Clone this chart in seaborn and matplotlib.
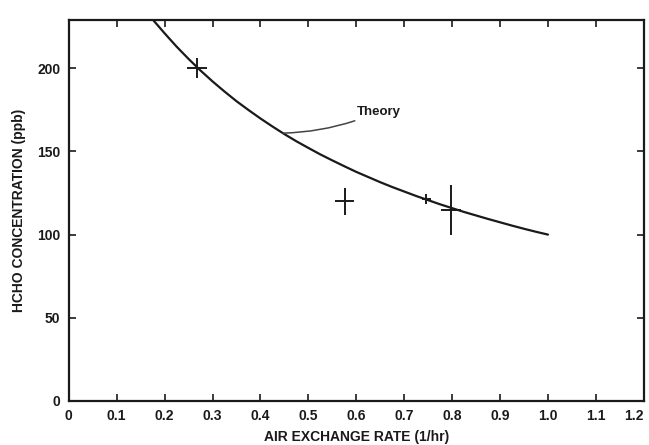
import pandas as pd
import matplotlib
matplotlib.use('Agg')
import matplotlib.pyplot as plt
import seaborn as sns

# Theory curve
theory_x = [0.17, 0.20, 0.225, 0.25, 0.275, 0.30, 0.325, 0.35, 0.375,
            0.40, 0.425, 0.45, 0.475, 0.50, 0.525, 0.55, 0.575, 0.60,
            0.625, 0.65, 0.675, 0.70, 0.725, 0.75, 0.775, 0.80, 0.825,
            0.85, 0.875, 0.90, 0.925, 0.95, 0.975, 1.00]
theory_y = [231, 221, 213, 205.6, 198.6, 192.1, 186.0, 180.2, 174.9,
            169.8, 165.0, 160.4, 156.1, 152.1, 148.2, 144.6, 141.1, 137.7,
            134.6, 131.5, 128.6, 125.9, 123.2, 120.7, 118.2, 115.9, 113.6,
            111.5, 109.4, 107.4, 105.4, 103.5, 101.7, 100]

# Measured points with error bars
meas_x = [0.267, 0.576, 0.746, 0.797]
meas_y = [200, 120, 121.6, 114.7]
meas_xerr = [0.021, 0.020, 0.009, 0.021]
meas_yerr = [6, 8, 3, 15]

x_ticks = [0, 0.1, 0.2, 0.3, 0.4, 0.5, 0.6, 0.7, 0.8, 0.9, 1.0, 1.1, 1.2]
x_labels = ['0', '0.1', '0.2', '0.3', '0.4', '0.5', '0.6', '0.7', '0.8',
            '0.9', '1.0', '1.1', '1.2']
y_ticks = [0, 50, 100, 150, 200]

sns.set_theme(style='ticks')
plt.rcParams['font.family'] = ['Liberation Sans', 'DejaVu Sans']

ink = '#1a1a1a'

fig, ax = plt.subplots(figsize=(6.49, 4.45), dpi=100)
fig.subplots_adjust(left=0.106, right=0.992, bottom=0.099, top=0.955)

df = pd.DataFrame({'x': theory_x, 'y': theory_y})
sns.lineplot(data=df, x='x', y='y', ax=ax, color=ink, linewidth=1.6)

ax.errorbar(
    meas_x, meas_y,
    xerr=meas_xerr, yerr=meas_yerr,
    fmt='none', ecolor=ink, elinewidth=1.4, capsize=0
)

ax.annotate(
    'Theory',
    xy=(0.447, 161), xytext=(0.601, 174),
    fontsize=9.5, fontweight='bold', color=ink, va='center', ha='left',
    arrowprops=dict(arrowstyle='-', color='#444444', lw=1.1,
                    shrinkA=0, shrinkB=0,
                    connectionstyle='arc3,rad=-0.1')
)

ax.set_xlim(0, 1.2)
ax.set_ylim(0, 229)
ax.set_xticks(x_ticks)
ax.set_xticklabels(x_labels)
ax.set_yticks(y_ticks)

ax.tick_params(direction='in', length=5, width=1.2, colors=ink,
               top=True, right=True, labelsize=10, pad=6)
for lab in ax.get_xticklabels() + ax.get_yticklabels():
    lab.set_fontweight('bold')
# keep the last x label inside the figure
ax.get_xticklabels()[-1].set_horizontalalignment('right')

for side in ['left', 'right', 'top', 'bottom']:
    ax.spines[side].set_visible(True)
    ax.spines[side].set_linewidth(1.6)
    ax.spines[side].set_color(ink)

ax.set_xlabel('AIR EXCHANGE RATE (1/hr)', fontsize=10, fontweight='bold',
              color=ink, labelpad=5)
ax.set_ylabel('HCHO CONCENTRATION (ppb)', fontsize=10, fontweight='bold',
              color=ink, labelpad=8)

plt.savefig('out.png', dpi=100)
plt.close()
